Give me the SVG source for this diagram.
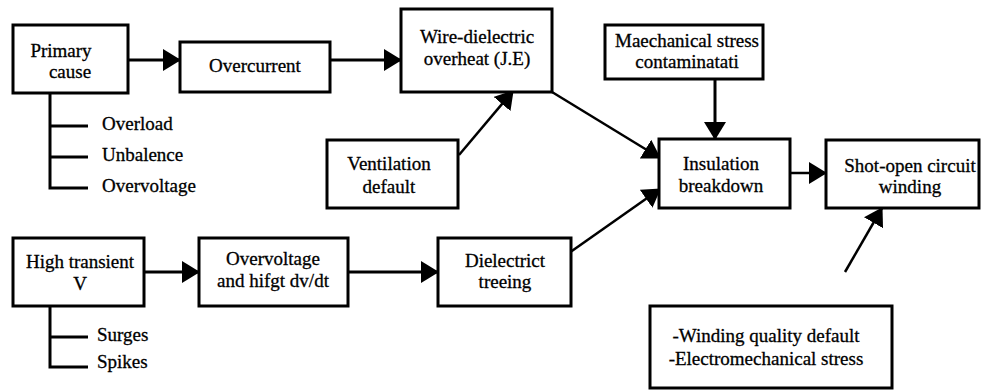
<svg xmlns="http://www.w3.org/2000/svg" width="982" height="390" viewBox="0 0 982 390">
<style>
  .box { fill: #fff; stroke: #000; stroke-width: 3; }
  .t { font-family: 'Liberation Serif', 'Times New Roman', 'DejaVu Serif', serif; font-size: 19px; fill: #000; stroke: #000; stroke-width: 0.3; }
  .c { text-anchor: middle; }
  .ln { fill: none; stroke: #000; stroke-width: 3; }
  .ar { fill: none; stroke: #000; stroke-width: 3; marker-end: url(#ah); }
  .ar2 { fill: none; stroke: #000; stroke-width: 2.5; marker-end: url(#ah); }
</style>
<defs>
  <marker id="ah" viewBox="0 0 18 22" refX="17" refY="11" markerWidth="18" markerHeight="22" markerUnits="userSpaceOnUse" orient="auto">
    <path d="M0,0 L18,11 L0,22 Z" fill="#000"/>
  </marker>
</defs>
<rect width="982" height="390" fill="#fff"/>

<g id="connectors">
  <line class="ar" x1="128" y1="60" x2="180" y2="60"/>
  <line class="ar" x1="330" y1="60" x2="401" y2="60"/>
  <line class="ar2" x1="459" y1="155" x2="513" y2="91"/>
  <line class="ar2" x1="552" y1="92" x2="660" y2="158"/>
  <line class="ar" x1="715" y1="79" x2="715" y2="139"/>
  <line class="ar2" x1="790" y1="173" x2="826" y2="173"/>
  <line class="ar2" x1="569" y1="253" x2="660" y2="189"/>
  <line class="ar" x1="144" y1="272" x2="199" y2="272"/>
  <line class="ar" x1="348" y1="272" x2="438" y2="272"/>
  <line class="ar2" x1="845" y1="272" x2="882" y2="208"/>
</g>

<g id="primary-cause">
  <rect class="box" x="13" y="25" width="115" height="68"/>
  <text class="t c" font-family="Liberation Serif, serif" x="61" y="57">Primary</text>
  <text class="t c" x="70" y="78">cause</text>
</g>
<g id="primary-tree">
  <path class="ln" d="M50,93 V188 H88 M50,126 H88 M50,157 H88"/>
  <text class="t" x="102" y="130">Overload</text>
  <text class="t" x="102" y="161">Unbalence</text>
  <text class="t" x="102" y="192">Overvoltage</text>
</g>
<g id="overcurrent">
  <rect class="box" x="180" y="42" width="150" height="50"/>
  <text class="t c" x="255" y="72">Overcurrent</text>
</g>
<g id="wire-dielectric">
  <rect class="box" x="401" y="9" width="151" height="83"/>
  <text class="t c" x="477" y="43">Wire-dielectric</text>
  <text class="t c" x="477" y="65">overheat (J.E)</text>
</g>
<g id="mechanical">
  <rect class="box" x="605" y="25" width="158" height="54"/>
  <text class="t c" x="687" y="47">Maechanical stress</text>
  <text class="t c" x="687" y="68">contaminatati</text>
</g>
<g id="ventilation">
  <rect class="box" x="327" y="140" width="131" height="68"/>
  <text class="t c" x="389" y="170">Ventilation</text>
  <text class="t c" x="389" y="193">default</text>
</g>
<g id="insulation">
  <rect class="box" x="659" y="139" width="131" height="69"/>
  <text class="t c" x="721" y="170">Insulation</text>
  <text class="t c" x="721" y="192">breakdown</text>
</g>
<g id="shot-open">
  <rect class="box" x="826" y="140" width="153" height="68"/>
  <text class="t c" x="910" y="172">Shot-open circuit</text>
  <text class="t c" x="910" y="193">winding</text>
</g>
<g id="high-transient">
  <rect class="box" x="13" y="238" width="131" height="68"/>
  <text class="t c" x="80" y="268">High transient</text>
  <text class="t c" x="80" y="290">V</text>
</g>
<g id="transient-tree">
  <path class="ln" d="M50,306 V367 H88 M50,337 H88"/>
  <text class="t" x="97" y="341">Surges</text>
  <text class="t" x="97" y="368">Spikes</text>
</g>
<g id="overvoltage-dvdt">
  <rect class="box" x="199" y="238" width="149" height="68"/>
  <text class="t c" x="273" y="265">Overvoltage</text>
  <text class="t c" x="273" y="287">and hifgt dv/dt</text>
</g>
<g id="dielectric-treeing">
  <rect class="box" x="438" y="238" width="133" height="68"/>
  <text class="t c" x="505" y="267">Dielectrict</text>
  <text class="t c" x="505" y="288">treeing</text>
</g>
<g id="winding-quality">
  <rect class="box" x="650" y="306" width="242" height="82"/>
  <text class="t c" x="766" y="342">-Winding quality default</text>
  <text class="t c" x="766" y="365">-Electromechanical stress</text>
</g>
</svg>
